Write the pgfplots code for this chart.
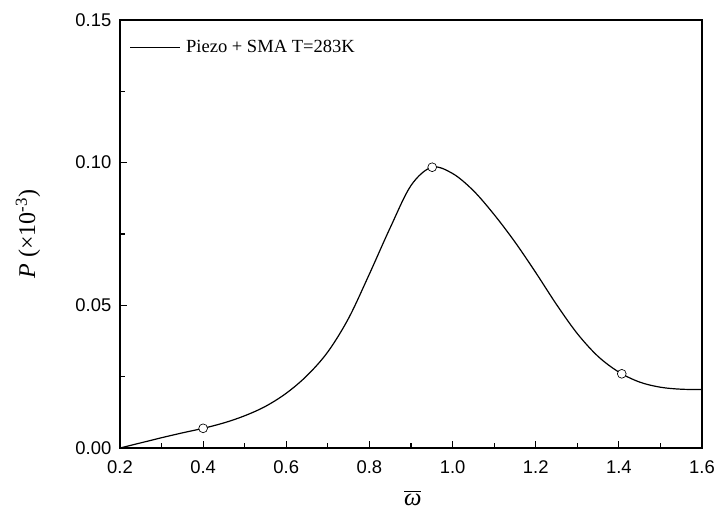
\documentclass[border=0pt]{standalone}
\usepackage{pgfplots}
\pgfplotsset{compat=1.18}
\usepackage{fontspec}
\setmainfont{Liberation Serif}
\newfontfamily\arial{Liberation Sans}
\begin{document}
\begin{tikzpicture}
\useasboundingbox (0,0) rectangle (537.75pt,387.75pt);
\begin{axis}[
  at={(90pt,51.75pt)}, anchor=south west,
  scale only axis, width=436.5pt, height=321pt,
  xmin=0.2, xmax=1.6, ymin=0, ymax=0.15,
  xtick={0.2,0.4,0.6,0.8,1.0,1.2,1.4,1.6},
  ytick={0,0.05,0.10,0.15},
  minor x tick num=1, minor y tick num=1,
  scaled y ticks=false, scaled x ticks=false,
  tick align=inside, xtick pos=left, ytick pos=left,
  major tick length=5.5pt, minor tick length=3.5pt,
  axis line style={line width=1.3pt},
  every tick/.style={line width=0.9pt, black},
  /pgf/number format/assume math mode=true,
  ticklabel style={font=\arial\fontsize{13.8}{15}\selectfont},
  xticklabel style={yshift=-6pt, /pgf/number format/.cd, fixed, fixed zerofill, precision=1},
  yticklabel style={xshift=-3pt, /pgf/number format/.cd, fixed, fixed zerofill, precision=2},
  xlabel={$\overline{\mbox{\textit{ω}}}$},
  xlabel style={at={(axis description cs:0.503,-0.117)}, anchor=center, font=\fontsize{18.5}{20}\selectfont},
  ylabel={\textit{P} (×10\textsuperscript{-3})},
  ylabel style={at={(axis description cs:-0.158,0.5)}, anchor=center, rotate=0, font=\fontsize{18}{20}\selectfont},
  legend style={at={(axis description cs:0.016,0.936)}, anchor=west, draw=none, fill=none,
    font=\fontsize{13.9}{16}\selectfont, inner sep=0pt, column sep=2pt},
  legend image code/.code={\draw[#1] (0pt,0pt) -- (37.5pt,0pt);},
  legend cell align=left,
]
\addplot[black, line width=0.9pt, smooth, tension=0.55] coordinates {
(0.20,0.0000) (0.25,0.0018) (0.30,0.0036) (0.35,0.0053) (0.40,0.0069)
(0.45,0.0088) (0.50,0.0113) (0.55,0.0146) (0.60,0.0192) (0.65,0.0254)
(0.70,0.0337) (0.75,0.0455) (0.80,0.0610) (0.85,0.0772) (0.90,0.0920)
(0.95,0.0984) (1.00,0.0962) (1.05,0.0902) (1.10,0.0818) (1.15,0.0722)
(1.20,0.0615) (1.25,0.0503) (1.30,0.0401) (1.35,0.0321) (1.40,0.0266)
(1.45,0.0231) (1.50,0.0213) (1.55,0.0206) (1.60,0.0205)
};
\addlegendentry{Piezo + SMA T=283K}
\addplot[only marks, mark=*, mark size=3.3pt, mark options={fill=white, draw=black, line width=0.5pt}, forget plot] coordinates {
(0.40,0.0069) (0.951,0.0984) (1.407,0.0260)
};
\end{axis}
\end{tikzpicture}
\end{document}
